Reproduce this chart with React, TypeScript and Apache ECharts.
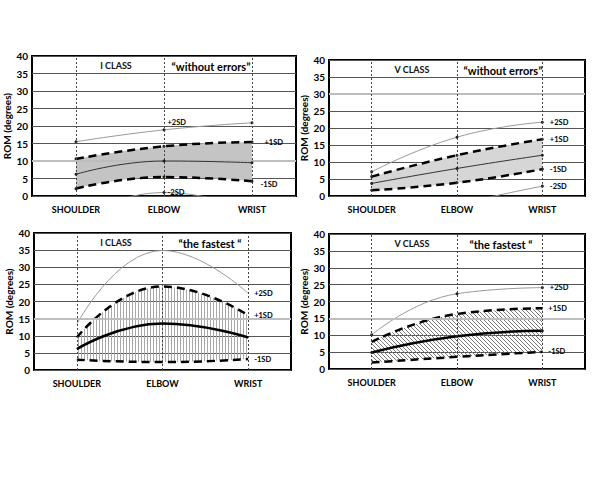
import React, { useEffect, useRef } from 'react';
import * as echarts from 'echarts';

const categories = ['SHOULDER', 'ELBOW', 'WRIST'];
const yTicks = { min: 0, max: 40, interval: 5 };

// Panel A: I CLASS "without errors"
const aPlus2 = [15.5, 18.9, 20.9];
const aPlus1 = [10.6, 14.2, 15.4];
const aMean = [6.2, 10.0, 9.5];
const aMinus1 = [2.1, 5.4, 4.2];
const aMinus2 = [-6, 1.0, -4];

// Panel B: V CLASS "without errors"
const bPlus2 = [7.1, 17.3, 21.7];
const bPlus1 = [5.7, 12.0, 16.7];
const bMean = [3.7, 8.1, 12.0];
const bMinus1 = [1.7, 3.9, 7.9];
const bMinus2 = [-9, -2.5, 2.9];

// Panel C: I CLASS "the fastest"
const cPlus2 = [13.4, 34.9, 22.4];
const cPlus1 = [9.5, 24.4, 16.0];
const cMean = [6.1, 13.6, 9.5];
const cMinus1 = [3.0, 2.3, 3.2];

// Panel D: V CLASS "the fastest"
const dPlus2 = [10.1, 22.3, 24.1];
const dPlus1 = [8.0, 16.3, 18.0];
const dMean = [4.9, 9.7, 11.3];
const dMinus1 = [1.9, 3.6, 5.1];

const classLabels = ['I CLASS', 'V CLASS', 'I CLASS', 'V CLASS'];
const conditionLabels = ['\u201Cwithout errors\u201D', '\u201Cwithout errors\u201D', '\u201Cthe fastest \u201C', '\u201Cthe fastest \u201C'];
const highlightY = [10, 30, 15, 15];

const FONT = 'Lato, "Open Sans", sans-serif';

function hatch(kind: 'vertical' | 'diagonal') {
  const c = document.createElement('canvas');
  const ctx = c.getContext('2d')!;
  if (kind === 'vertical') {
    c.width = 3;
    c.height = 4;
    ctx.fillStyle = '#a8a8a8';
    ctx.fillRect(0, 0, 1, 4);
  } else {
    c.width = 4;
    c.height = 4;
    ctx.fillStyle = '#7a7a7a';
    for (let i = 0; i < 4; i++) ctx.fillRect(i, i, 1, 1);
  }
  return c;
}

type Lab = { idx: number; text: string; offset?: number[] };

function withLabels(values: number[], labs: Lab[]) {
  return values.map((v, i) => {
    const l = labs.find((x) => x.idx === i);
    if (!l) return v;
    return {
      value: v,
      label: {
        show: true,
        formatter: l.text,
        position: 'right',
        distance: 6,
        offset: l.offset || [0, 0],
        fontSize: 7.5,
        fontWeight: 'bold',
        fontFamily: FONT,
        color: '#000',
      },
    };
  });
}

export default function App() {
  const ref = useRef<HTMLDivElement>(null);
  useEffect(() => {
    const chart = echarts.init(ref.current!, null, { renderer: 'svg' });

    const grids = [
      { left: 32, top: 56, width: 264, height: 140 },
      { left: 329, top: 60, width: 256, height: 136 },
      { left: 34, top: 233, width: 257, height: 137 },
      { left: 329, top: 234, width: 256, height: 135 },
    ];

    const fills: any[] = [
      '#c4c4c4',
      '#d6d6d6',
      { image: hatch('vertical'), repeat: 'repeat' },
      { image: hatch('diagonal'), repeat: 'repeat' },
    ];

    const panels = [
      {
        plus2: withLabels(aPlus2, [{ idx: 1, text: '+2SD', offset: [-4, -7] }]),
        plus1: withLabels(aPlus1, [{ idx: 2, text: '+1SD', offset: [5, 0] }]),
        mean: aMean,
        minus1: withLabels(aMinus1, [{ idx: 2, text: '-1SD', offset: [1, 3] }]),
        minus2: withLabels(aMinus2, [{ idx: 1, text: '-2SD', offset: [-4, 0] }]),
        lo: aMinus1,
        hi: aPlus1,
        bold: false,
      },
      {
        plus2: withLabels(bPlus2, [{ idx: 2, text: '+2SD' }]),
        plus1: withLabels(bPlus1, [{ idx: 2, text: '+1SD' }]),
        mean: bMean,
        minus1: withLabels(bMinus1, [{ idx: 2, text: '-1SD' }]),
        minus2: withLabels(bMinus2, [{ idx: 2, text: '-2SD' }]),
        lo: bMinus1,
        hi: bPlus1,
        bold: false,
      },
      {
        plus2: withLabels(cPlus2, [{ idx: 2, text: '+2SD' }]),
        plus1: withLabels(cPlus1, [{ idx: 2, text: '+1SD' }]),
        mean: cMean,
        minus1: withLabels(cMinus1, [{ idx: 2, text: '-1SD' }]),
        minus2: null,
        lo: cMinus1,
        hi: cPlus1,
        bold: true,
      },
      {
        plus2: withLabels(dPlus2, [{ idx: 2, text: '+2SD' }]),
        plus1: withLabels(dPlus1, [{ idx: 2, text: '+1SD' }]),
        mean: dMean,
        minus1: withLabels(dMinus1, [{ idx: 2, text: '-1SD' }]),
        minus2: null,
        lo: dMinus1,
        hi: dPlus1,
        bold: true,
      },
    ];

    const xAxis = grids.map((_, i) => ({
      type: 'category',
      gridIndex: i,
      data: categories,
      boundaryGap: true,
      axisLine: { show: false },
      axisTick: { show: false },
      splitLine: { show: false },
      axisLabel: {
        color: '#000',
        fontFamily: FONT,
        fontWeight: 'bold',
        fontSize: 9,
        margin: 9,
        interval: 0,
      },
    }));

    const yAxis = grids.map((_, i) => ({
      type: 'value',
      gridIndex: i,
      min: yTicks.min,
      max: yTicks.max,
      interval: yTicks.interval,
      name: 'ROM (degrees)',
      nameLocation: 'middle',
      nameGap: i % 2 === 0 ? 18 : 17,
      nameTextStyle: { color: '#000', fontFamily: FONT, fontWeight: 'bold', fontSize: 10 },
      axisLine: { show: false },
      axisTick: { show: false },
      axisLabel: { color: '#000', fontFamily: FONT, fontWeight: 'bold', fontSize: 10, margin: 4 },
      splitLine: { show: true, lineStyle: { color: '#555', width: 1 } },
    }));

    const series: any[] = [];
    const dot = (visible: boolean) => ({
      symbol: 'circle',
      symbolSize: visible ? 3 : 0.01,
      showSymbol: true,
      itemStyle: { color: '#222' },
    });
    panels.forEach((p, i) => {
      const stack = 'band' + i;
      series.push({
        type: 'line',
        xAxisIndex: i,
        yAxisIndex: i,
        stack,
        data: p.lo,
        smooth: 0.5,
        showSymbol: false,
        lineStyle: { opacity: 0 },
        silent: true,
        z: 1,
        markLine: {
          silent: true,
          symbol: ['none', 'none'],
          label: { show: false },
          data: [
            { yAxis: highlightY[i], lineStyle: { color: '#bdbdbd', width: 2, type: 'solid' } },
            ...categories.map((c) => ({ xAxis: c, lineStyle: { color: '#444', width: 1, type: [2, 2] } })),
          ],
        },
      });
      series.push({
        type: 'line',
        xAxisIndex: i,
        yAxisIndex: i,
        stack,
        data: p.hi.map((v, k) => v - p.lo[k]),
        smooth: 0.5,
        showSymbol: false,
        lineStyle: { opacity: 0 },
        areaStyle: { color: fills[i], opacity: 1 },
        silent: true,
        z: 1,
      });
      if (p.minus2) {
        series.push({
          type: 'line', xAxisIndex: i, yAxisIndex: i, data: p.minus2, smooth: 0.5,
          ...dot(true), lineStyle: { color: '#999', width: 1 }, z: 3,
        });
      }
      series.push({
        type: 'line', xAxisIndex: i, yAxisIndex: i, data: p.plus2, smooth: 0.5,
        ...dot(i !== 2), lineStyle: { color: '#999', width: 1 }, z: 3,
      });
      series.push({
        type: 'line', xAxisIndex: i, yAxisIndex: i, data: p.plus1, smooth: 0.5,
        ...dot(!p.bold), lineStyle: { color: '#000', width: 2.5, type: [8, 5] }, z: 4,
      });
      series.push({
        type: 'line', xAxisIndex: i, yAxisIndex: i, data: p.minus1, smooth: 0.5,
        ...dot(!p.bold), lineStyle: { color: '#000', width: 2.5, type: [8, 5] }, z: 4,
      });
      series.push({
        type: 'line', xAxisIndex: i, yAxisIndex: i, data: p.mean, smooth: 0.5,
        ...dot(!p.bold || i === 3),
        lineStyle: { color: p.bold ? '#000' : '#333', width: p.bold ? 2.5 : 1 }, z: 5,
      });
    });

    const graphic: any[] = [];
    const titlePos = [
      { cx: 116, cy: 65, qx: 211, qy: 66 },
      { cx: 412, cy: 69, qx: 503, qy: 70 },
      { cx: 116, cy: 242, qx: 210, qy: 243 },
      { cx: 412, cy: 243, qx: 501, qy: 244 },
    ];
    titlePos.forEach((t, i) => {
      graphic.push({
        type: 'text', x: t.cx, y: t.cy, z: 10,
        style: { text: classLabels[i], font: `bold 9px ${FONT}`, fill: '#111', textAlign: 'center', textVerticalAlign: 'middle', align: 'center', verticalAlign: 'middle' },
      });
      graphic.push({
        type: 'text', x: t.qx, y: t.qy, z: 10,
        style: { text: conditionLabels[i], font: `bold 11px ${FONT}`, fill: '#000', textAlign: 'center', textVerticalAlign: 'middle', align: 'center', verticalAlign: 'middle' },
      });
    });

    chart.setOption({
      animation: false,
      backgroundColor: '#fff',
      grid: grids.map((g) => ({ ...g, show: true, borderColor: '#000', borderWidth: 2, backgroundColor: '#fff' })),
      xAxis,
      yAxis,
      series,
      graphic,
    });
    return () => chart.dispose();
  }, []);
  return <div ref={ref} style={{ position: 'absolute', left: 0, top: 0, width: 600, height: 480 }} />;
}
